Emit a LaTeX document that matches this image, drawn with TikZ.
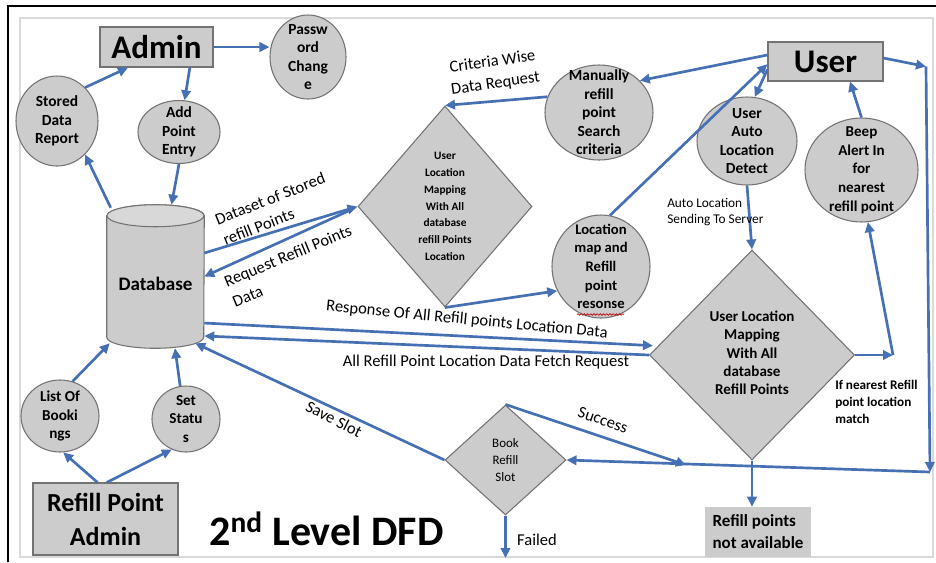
\documentclass[tikz,border=0pt]{standalone}
\usepackage{fontspec}
\setmainfont{Carlito}
\usetikzlibrary{shapes.geometric,arrows.meta,calc,decorations.pathmorphing}

\definecolor{flowblue}{RGB}{70,112,180}
\definecolor{shapefill}{RGB}{204,204,204}
\definecolor{shapetop}{RGB}{216,216,216}
\definecolor{shapeline}{RGB}{115,115,115}
\definecolor{framegray}{RGB}{218,218,218}

\tikzset{
  flow/.style={draw=flowblue, line width=2pt, -{Triangle[length=7.5pt,width=7pt]}},
  boxnode/.style={rectangle, draw=shapeline, fill=shapefill, line width=0.9pt, inner sep=0pt},
  bubble/.style={ellipse, draw=shapeline, fill=shapefill, line width=0.8pt, inner sep=0pt},
  rhomb/.style={diamond, draw=shapeline, fill=shapefill, line width=0.8pt, inner sep=0pt},
  intext/.style={align=center, inner sep=0pt, font=\bfseries\fontsize{11.6}{13.9}\selectfont},
  edgetext/.style={inner sep=0pt, font=\fontsize{12.4}{16.5}\selectfont},
}

\begin{document}
\begin{tikzpicture}[x=0.75pt,y=-0.75pt]
\useasboundingbox (0,0) rectangle (936,562);
\fill[white] (0,0) rectangle (936,562);

% page frame
\draw[framegray, line width=0.8pt] (20,557) -- (20,18) -- (933,18) -- (933,557) -- cycle;
\draw[black, line width=1.6pt] (8,562) -- (8,6) -- (936,6);

% external entities
\node[boxnode, minimum width=84.75pt, minimum height=30pt,
      font=\bfseries\fontsize{24.75}{28}\selectfont] (admin) at (156.5,47) {Admin};
\node[boxnode, minimum width=86.25pt, minimum height=29.25pt,
      font=\bfseries\fontsize{24.75}{28}\selectfont] (user) at (825.5,61.5) {User};
\node[boxnode, minimum width=108.75pt, minimum height=54pt, align=center,
      font=\bfseries\fontsize{19.5}{25.5}\selectfont] (rpa) at (105.5,519) {Refill Point\\Admin};
\node[fill=shapefill, minimum width=79.5pt, minimum height=37.5pt, inner sep=0pt, align=left,
      font=\bfseries\fontsize{12.75}{16.5}\selectfont] (na) at (758,532) {Refill points\\not available};

% processes
\node[bubble, minimum width=57pt, minimum height=63pt,
      label={[intext]center:Passw\\ord\\Chang\\e}] (pwd) at (308,57) {};
\node[bubble, minimum width=61.5pt, minimum height=67.5pt,
      label={[intext]center:Stored\\Data\\Report}] (sdr) at (57,121) {};
\node[bubble, minimum width=61.5pt, minimum height=47.25pt,
      label={[intext]center:Add\\Point\\Entry}] (ape) at (179,132) {};
\node[bubble, minimum width=58.5pt, minimum height=54pt,
      label={[intext, font=\bfseries\fontsize{11.4}{13.7}\selectfont]center:List Of\\Booki\\ngs}] (lob) at (60,416) {};
\node[bubble, minimum width=51pt, minimum height=49.5pt,
      label={[intext, font=\bfseries\fontsize{11.4}{13.7}\selectfont]center:Set\\Statu\\s}] (sst) at (186,419) {};
\node[bubble, minimum width=81pt, minimum height=71.25pt,
      label={[intext]center:Manually\\refill\\point\\Search\\criteria}] (msc) at (599,112.5) {};
\node[bubble, minimum width=75pt, minimum height=66pt,
      label={[intext]center:User\\Auto\\Location\\Detect}] (uad) at (747,141) {};
\node[bubble, minimum width=84.75pt, minimum height=78pt,
      label={[intext, font=\bfseries\fontsize{11.3}{14}\selectfont]center:Beep\\Alert In\\for\\nearest\\refill point}] (bpa) at (861.5,170) {};
\node[bubble, minimum width=73.5pt, minimum height=77.25pt,
      label={[intext, font=\bfseries\fontsize{11}{14}\selectfont]center:Location\\map and\\Refill\\point\\resonse}] (lmr) at (601,266.5) {};
\draw[red!75!black, line width=0.5pt, decorate,
      decoration={snake, amplitude=0.6pt, segment length=2.4pt}] (577,314.5) -- (624,314.5);

% decisions
\node[rhomb, minimum width=130.5pt, minimum height=150.75pt,
      label={[intext, font=\bfseries\fontsize{8.5}{12.6}\selectfont]center:User\\Location\\Mapping\\With All\\database\\refill Points\\Location}] (d1) at (445,206.5) {};
\node[rhomb, minimum width=153.75pt, minimum height=157.5pt,
      label={[intext, font=\bfseries\fontsize{11.3}{13.7}\selectfont, yshift=1.5pt]center:User Location\\Mapping\\With All\\database\\Refill Points}] (d2) at (752,355) {};
\node[rhomb, minimum width=90.75pt, minimum height=82.5pt,
      label={[intext, font=\fontsize{9.7}{12.75}\selectfont]center:Book\\Refill\\Slot}] (brs) at (505.5,460) {};

% data store
\node[minimum width=72.75pt, minimum height=107.25pt, inner sep=0pt] (db) at (155.5,276.5) {};
\filldraw[fill=shapefill, draw=shapeline, line width=0.8pt]
  ([yshift=-8.25pt]db.north west) -- ([yshift=8.25pt]db.south west)
  arc[start angle=180, end angle=360, x radius=36.375pt, y radius=8.25pt]
  -- ([yshift=-8.25pt]db.north east)
  arc[start angle=0, end angle=180, x radius=36.375pt, y radius=8.25pt] -- cycle;
\filldraw[fill=shapetop, draw=shapeline, line width=0.8pt]
  ([yshift=-8.25pt]db.north) ellipse[x radius=36.375pt, y radius=8.25pt];
\node[inner sep=0pt, font=\bfseries\fontsize{14.3}{17}\selectfont] (dbtext) at ([yshift=-5.25pt]db.center) {Database};

% free ends of connectors
\coordinate (rc1) at (926,66.5);
\coordinate (rc2) at (930,472);
\coordinate (bc) at (893,355);
\coordinate (se) at (686,465);
\coordinate (fe) at (505.5,558);

% data flows
\draw[flow] (admin.east) -- (admin.east -| pwd.west);
\draw[flow] (sdr.50) -- ([xshift=-21.4pt]admin.south);
\draw[flow] ([xshift=25pt]admin.south) -- (ape.80);
\draw[flow] (ape.south) -- ([xshift=12pt]db.north);
\draw[flow] ([xshift=3pt,yshift=-2.25pt]db.north west) -- (sdr.-50);
\draw[flow] ([yshift=17.6pt]db.east) -- (d1.west);
\draw[flow] ([xshift=-6pt,yshift=-3pt]d1.west) -- (db.east);
\draw[flow] (msc.163) -- (d1.north);
\draw[flow] ([yshift=4.9pt]user.west) -- (msc.38);
\draw[flow] ([yshift=-6pt]user.west) -- (uad.80);
\draw[flow] (lmr.80) -- ([yshift=-2pt]user.west);
\draw[flow] (bpa.north) -- ([xshift=18.4pt]user.south);
\draw[flow] ([yshift=2.6pt]user.east) -- (rc1);
\draw[flow] (rc1) -- (rc2);
\draw[flow] (rc2) -- (brs.east);
\draw[flow] (uad.south) -- (d2.north);
\draw[flow] (d2.east) -- (bc);
\draw[flow] (bc) -- (bpa.-83);
\draw[flow] (d1.south) -- (lmr.209);
\draw[flow] ([yshift=-34.9pt]db.east) -- ([xshift=3pt,yshift=7pt]d2.west);
\draw[flow] (d2.west) -- ([yshift=-44.6pt]db.east);
\draw[flow] (brs.west) -- ([xshift=-6.75pt,yshift=3.75pt]db.south east);
\draw[flow] (brs.north) -- (se);
\draw[flow] (d2.south) -- (d2.south |- na.north);
\draw[flow] (brs.south) -- (fe);
\draw[flow] (sst.100) -- ([xshift=14.6pt]db.south);
\draw[flow] (lob.70) -- ([xshift=2.25pt,yshift=3.75pt]db.south west);
\draw[flow] ([xshift=-6pt]rpa.north) -- (lob.-85);
\draw[flow] ([xshift=1pt]rpa.north) -- (sst.-115);

% flow labels
\node[edgetext, rotate=21.5, align=left] (lbldata) at (274,209) {Dataset of Stored\\refill Points};
\node[edgetext, rotate=22.5, align=left] (lblreq) at (292,266) {Request Refill Points\\Data};
\node[edgetext, rotate=8, align=center] (lblcrit) at (494,73) {Criteria Wise\\Data Request};
\node[edgetext, rotate=-5.5] (lblresp) at (467,320) {Response Of All Refill points Location Data};
\node[edgetext] (lblfetch) at (486,362) {All Refill Point Location Data Fetch Request};
\node[edgetext, rotate=-27] (lblsave) at (334,419) {Save Slot};
\node[edgetext, rotate=-19] (lblsucc) at (603,420) {Success};
\node[edgetext] (lblfail) at (537,540) {Failed};
\node[inner sep=0pt, anchor=west, align=left, font=\fontsize{10}{11.8}\selectfont] (lblauto) at (667,212) {Auto Location\\Sending To Server};
\node[inner sep=0pt, anchor=west, align=left, font=\bfseries\fontsize{9.9}{12.75}\selectfont] (lblmatch) at (835,402) {If nearest Refill\\point location\\match};

% title
\node[anchor=base west, inner sep=0pt, font=\bfseries\fontsize{31.5}{36}\selectfont] (title) at (209,545) {2\textsuperscript{nd} Level DFD};
\end{tikzpicture}
\end{document}
